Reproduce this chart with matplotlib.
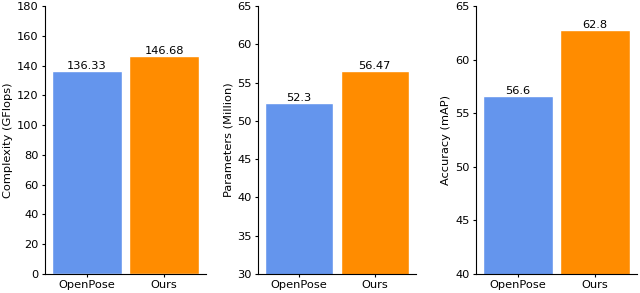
import matplotlib
matplotlib.use('Agg')
import matplotlib.pyplot as plt

methods = ["OpenPose", "Ours"]
complexity = [136.33, 146.68]
params = [52.3, 56.47]
accuracy = [56.6, 62.8]

ylabels = ["Complexity (GFlops)", "Parameters (Million)", "Accuracy (mAP)"]
ylims = [(0, 180), (30, 65), (40, 65)]
colors = ['cornflowerblue', 'darkorange']

plt.rcParams['font.size'] = 8.2
plt.rcParams['xtick.major.size'] = 2.5
plt.rcParams['ytick.major.size'] = 2.5
plt.rcParams['xtick.major.pad'] = 2
plt.rcParams['ytick.major.pad'] = 2
plt.rcParams['axes.labelpad'] = 3

fig = plt.figure(figsize=(6.4, 2.93), dpi=100)
# axes boxes in pixels (left, right), shared bottom/top
boxes = [(45, 206), (258, 416), (476, 637)]
axes = [fig.add_axes([l / 640, 19 / 293, (r - l) / 640, 268 / 293]) for l, r in boxes]

for ax, vals, lab, lim in zip(axes, [complexity, params, accuracy], ylabels, ylims):
    bars = ax.bar(methods, vals, width=0.9, color=colors, edgecolor='white', linewidth=1)
    ax.set_ylim(*lim)
    ax.set_ylabel(lab)
    ax.spines['top'].set_visible(False)
    ax.spines['right'].set_visible(False)
    for b, v in zip(bars, vals):
        ax.text(b.get_x() + b.get_width() / 2, v, str(v), ha='center', va='bottom')

plt.savefig("out.png", dpi=100)
plt.close()
